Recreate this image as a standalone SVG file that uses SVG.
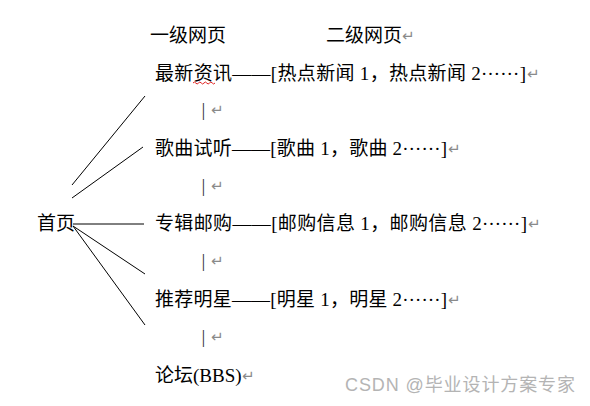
<svg xmlns="http://www.w3.org/2000/svg" width="590" height="406" viewBox="0 0 590 406">
<style>
.t{font-family:"Liberation Serif","Noto Sans CJK SC",serif;font-size:19px;fill:#000}
.r{fill:#8a8a8a;font-family:"DejaVu Sans",sans-serif;font-size:15px}
.bar{fill:#333}
.ln{stroke:#000;stroke-width:1;fill:none}
.wm{font-family:"Liberation Sans","Noto Sans CJK SC",sans-serif;font-size:18px;fill:#b4b4b4}
</style>
<rect width="590" height="406" fill="#fff"/>
<g id="headers">
<text class="t" x="150" y="42">一级网页</text>
<text class="t" x="326" y="42">二级网页</text>
<text class="r" x="402" y="41">↵</text>
</g>
<g id="home"><text class="t" x="37" y="230">首页</text></g>
<g id="n1">
<text class="t" x="155" y="80" textLength="371" lengthAdjust="spacing">最新资讯——[热点新闻 1，热点新闻 2<tspan dy="-5">……</tspan><tspan dy="5">]</tspan></text>
<text class="r" x="527" y="79">↵</text>
<path d="M193,83 q1.4,-2 2.75,0 t2.75,0 t2.75,0 t2.75,0 t2.75,0 t2.75,0 t2.75,0 t2.75,0" stroke="#e02020" stroke-width="1" fill="none"/>
</g>
<g id="sep1"><text class="t bar" x="201.5" y="116">|</text><text class="r" x="211" y="115">↵</text></g>
<g id="n2">
<text class="t" x="155" y="155" textLength="292" lengthAdjust="spacing">歌曲试听——[歌曲 1，歌曲 2<tspan dy="-5">……</tspan><tspan dy="5">]</tspan></text>
<text class="r" x="448" y="154">↵</text>
</g>
<g id="sep2"><text class="t bar" x="201.5" y="192">|</text><text class="r" x="211" y="191">↵</text></g>
<g id="n3">
<text class="t" x="155" y="230" textLength="372" lengthAdjust="spacing">专辑邮购——[邮购信息 1，邮购信息 2<tspan dy="-5">……</tspan><tspan dy="5">]</tspan></text>
<text class="r" x="528" y="229">↵</text>
</g>
<g id="sep3"><text class="t bar" x="201.5" y="267">|</text><text class="r" x="211" y="266">↵</text></g>
<g id="n4">
<text class="t" x="155" y="306" textLength="292" lengthAdjust="spacing">推荐明星——[明星 1，明星 2<tspan dy="-5">……</tspan><tspan dy="5">]</tspan></text>
<text class="r" x="448" y="305">↵</text>
</g>
<g id="sep4"><text class="t bar" x="201.5" y="343">|</text><text class="r" x="211" y="342">↵</text></g>
<g id="n5">
<text class="t" x="155" y="382">论坛(BBS)</text>
<text class="r" x="242" y="381">↵</text>
</g>
<g id="connectors">
<line class="ln" x1="145" y1="96" x2="72" y2="185"/>
<line class="ln" x1="143" y1="147" x2="72" y2="198"/>
<line class="ln" x1="73" y1="224" x2="144" y2="224"/>
<line class="ln" x1="73" y1="226" x2="145" y2="274"/>
<line class="ln" x1="73" y1="226" x2="145" y2="325"/>
</g>
<text class="wm" x="345" y="391" textLength="230" lengthAdjust="spacing">CSDN @毕业设计方案专家</text>
</svg>
